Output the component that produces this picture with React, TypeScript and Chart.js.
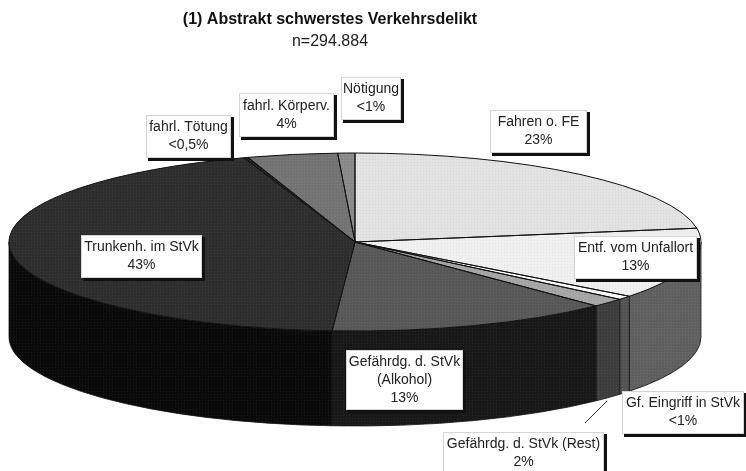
import React, { useEffect, useRef } from "react";
import { Chart, registerables } from "chart.js";

Chart.register(...registerables);

const titleText = "(1) Abstrakt schwerstes Verkehrsdelikt";
const subtitleText = "n=294.884";
const categories = [
  "Fahren o. FE",
  "Entf. vom Unfallort",
  "Gf. Eingriff in StVk",
  "Gefährdg. d. StVk (Rest)",
  "Gefährdg. d. StVk (Alkohol)",
  "Trunkenh. im StVk",
  "fahrl. Tötung",
  "fahrl. Körperv.",
  "Nötigung",
];
const shares = [22.5, 12.9, 0.7, 1.6, 13.3, 43.7, 0.2, 4.2, 0.8];
const topColors = ["#e2e2e2", "#f0f0f0", "#fbfbfb", "#a6a6a6", "#585858", "#2e2e2e", "#222222", "#747474", "#8a8a8a"];
const wallColors = ["#5c5c5c", "#606060", "#545454", "#3e3e3e", "#181818", "#0a0a0a", "#0a0a0a", "#0a0a0a", "#0a0a0a"];

const callouts = [
  { lines: ["Fahren o. FE", "23%"], box: [490, 110, 97, 43] },
  { lines: ["Entf. vom Unfallort", "13%"], box: [574, 236, 123, 43] },
  { lines: ["Gf. Eingriff in StVk", "<1%"], box: [622, 391, 122, 43] },
  { lines: ["Gefährdg. d. StVk (Rest)", "2%"], box: [443, 432, 161, 43] },
  { lines: ["Gefährdg. d. StVk", "(Alkohol)", "13%"], box: [346, 350, 117, 60] },
  { lines: ["Trunkenh. im StVk", "43%"], box: [81, 235, 121, 43] },
  { lines: ["fahrl. Tötung", "<0,5%"], box: [146, 115, 85, 43] },
  { lines: ["fahrl. Körperv.", "4%"], box: [239, 93, 95, 44] },
  { lines: ["Nötigung", "<1%"], box: [341, 77, 60, 43] },
];

const CX = 355;
const CY = 242;
const RX = 346;
const RY = 89;
const DEPTH = 95;

function makeDither(ctx: CanvasRenderingContext2D) {
  const tile = document.createElement("canvas");
  tile.width = 3;
  tile.height = 3;
  const t = tile.getContext("2d")!;
  t.fillStyle = "rgba(255,255,255,0.07)";
  t.fillRect(1, 1, 1, 1);
  t.fillStyle = "rgba(0,0,0,0.05)";
  t.fillRect(0, 0, 1, 1);
  return ctx.createPattern(tile, "repeat");
}

const piePlugin = {
  id: "tiltedPie",
  beforeDatasetsDraw(chart: any) {
    const { ctx } = chart;
    const arcs = chart.getDatasetMeta(0).data;
    arcs.forEach((arc: any, i: number) => {
      const a = Math.max(arc.startAngle, 0);
      const b = Math.min(arc.endAngle, Math.PI);
      if (b <= a) return;
      ctx.beginPath();
      ctx.ellipse(CX, CY, RX, RY, 0, a, b);
      ctx.ellipse(CX, CY + DEPTH, RX, RY, 0, b, a, true);
      ctx.closePath();
      ctx.fillStyle = wallColors[i];
      ctx.fill();
      ctx.strokeStyle = "#111";
      ctx.lineWidth = 0.8;
      ctx.stroke();
    });
    const first = arcs[0];
    ctx.save();
    ctx.translate(CX, CY);
    ctx.scale(RX / first.outerRadius, RY / first.outerRadius);
    ctx.translate(-first.x, -first.y);
  },
  afterDatasetsDraw(chart: any) {
    const { ctx } = chart;
    ctx.restore();
    const arcs = chart.getDatasetMeta(0).data;
    ctx.strokeStyle = "#111";
    ctx.lineWidth = 1;
    arcs.forEach((arc: any) => {
      ctx.beginPath();
      ctx.moveTo(CX, CY);
      ctx.ellipse(CX, CY, RX, RY, 0, arc.startAngle, arc.endAngle);
      ctx.closePath();
      ctx.stroke();
    });
    const dither = makeDither(ctx);
    if (dither) {
      ctx.beginPath();
      ctx.ellipse(CX, CY, RX, RY, 0, Math.PI, 2 * Math.PI);
      ctx.ellipse(CX, CY + DEPTH, RX, RY, 0, 0, Math.PI);
      ctx.closePath();
      ctx.fillStyle = dither;
      ctx.fill();
    }
  },
  afterDraw(chart: any) {
    const { ctx } = chart;
    ctx.save();
    ctx.strokeStyle = "#333";
    ctx.lineWidth = 1;
    ctx.beginPath();
    ctx.moveTo(607, 401);
    ctx.lineTo(585, 423);
    ctx.stroke();
    ctx.font = '14px "Liberation Sans"';
    ctx.textAlign = "center";
    ctx.textBaseline = "middle";
    callouts.forEach(({ lines, box }) => {
      const [x, y, w, h] = box;
      ctx.fillStyle = "#111";
      ctx.fillRect(x + 2, y + 2, w + 1, h + 1);
      ctx.fillStyle = "#fff";
      ctx.fillRect(x, y, w, h);
      ctx.strokeStyle = "#d4d4d4";
      ctx.lineWidth = 1;
      ctx.strokeRect(x + 0.5, y + 0.5, w - 1, h - 1);
      ctx.fillStyle = "#222";
      const start = y + h / 2 - ((lines.length - 1) * 18) / 2;
      lines.forEach((line, i) => ctx.fillText(line, x + w / 2, start + i * 18));
    });
    ctx.restore();
  },
};

export default function App() {
  const ref = useRef<HTMLCanvasElement>(null);
  useEffect(() => {
    const chart = new Chart(ref.current!, {
      type: "pie",
      data: {
        labels: categories,
        datasets: [
          {
            data: shares,
            backgroundColor: topColors,
            borderWidth: 0,
            clip: false,
          } as any,
        ],
      },
      options: {
        responsive: false,
        animation: false,
        layout: { padding: { right: 86 } },
        plugins: {
          legend: { display: false },
          tooltip: { enabled: false },
          title: {
            display: true,
            text: titleText,
            color: "#111",
            font: { family: '"Liberation Sans"', size: 16, weight: "bold" },
            padding: { top: 10, bottom: 3 },
          },
          subtitle: {
            display: true,
            text: subtitleText,
            color: "#222",
            font: { family: '"Liberation Sans"', size: 16, weight: "normal" },
            padding: { top: 0, bottom: 10 },
          },
        },
      },
      plugins: [piePlugin],
    } as any);
    return () => chart.destroy();
  }, []);
  return (
    <canvas
      ref={ref}
      width={746}
      height={471}
      style={{ position: "absolute", left: 0, top: 0, width: 746, height: 471 }}
    />
  );
}
